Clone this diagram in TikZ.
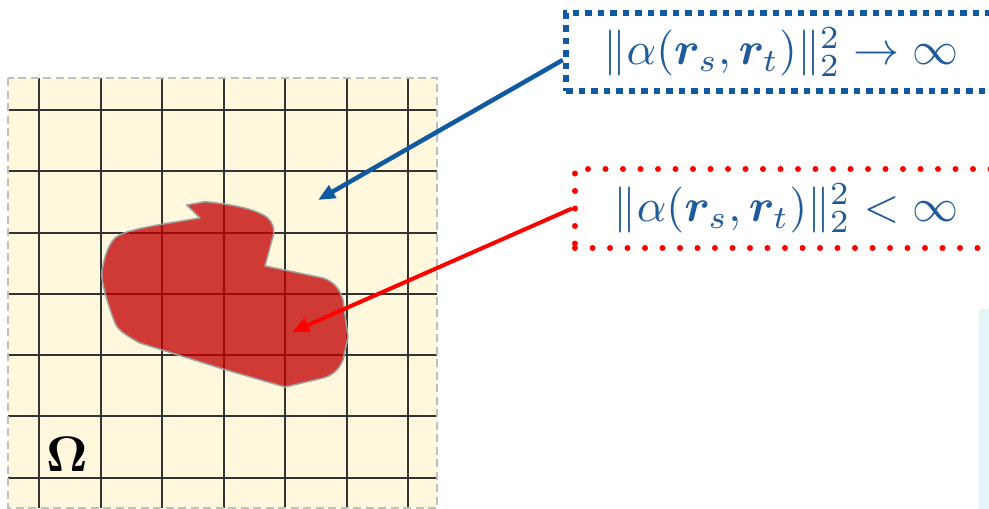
\documentclass[tikz,border=0pt]{standalone}
\usepackage{amsmath,bm}
\usetikzlibrary{arrows.meta,calc}
\definecolor{gridbg}{HTML}{FFF8DC}
\definecolor{gridln}{HTML}{333333}
\definecolor{bordergray}{HTML}{BFBFBF}
\definecolor{blobred}{HTML}{C00000}
\definecolor{blobline}{HTML}{A0A0A0}
\definecolor{boxblue}{HTML}{0F5AA0}
\definecolor{textblue}{HTML}{1F5A9B}
\definecolor{pureRed}{HTML}{FF0000}
\definecolor{stripblue}{HTML}{E4F5FA}
\tikzset{
  gridline/.style={draw=gridln,line width=2pt},
  borderline/.style={draw=bordergray,line width=2pt,dash pattern=on 8pt off 4.5pt},
  blob/.style={fill=blobred,fill opacity=0.76,draw=blobline,line width=1.5pt,line join=round},
  bluebox/.style={draw=boxblue,line width=6.5pt,dash pattern=on 6.5pt off 6pt,inner sep=0pt,minimum width=430pt,minimum height=78pt,text=textblue},
  redbox/.style={draw=pureRed,line width=6pt,line cap=round,dash pattern=on 0pt off 17.5pt,inner sep=0pt,minimum width=422pt,minimum height=79pt,text=textblue},
  bluearrow/.style={draw=boxblue,line width=4.5pt,-{Triangle[length=17pt,width=14pt]}},
  redarrow/.style={draw=pureRed,line width=4pt,-{Triangle[length=17pt,width=14pt]}}
}
\begin{document}
\begin{tikzpicture}[x=1pt,y=-1pt]
\useasboundingbox (0,0) rectangle (989,509);
\clip (0,0) rectangle (989,509);
\fill[stripblue] (979,309) rectangle (989,509);
\fill[gridbg] (8,78) rectangle (437,508);
\foreach \x in {39,100.5,162,223.5,285,346.5,408} \draw[gridline] (\x,78) -- (\x,508);
\foreach \y in {110,171,232.5,294,355,416,478} \draw[gridline] (8,\y) -- (437,\y);
\draw[borderline] (8,78) rectangle (437,508);
\path[blob] (186.7,205) -- (205,201.7) .. controls (240,205) and (266,212) .. (271,222)
  .. controls (275,228) and (274,236) .. (272,240) -- (265,266) -- (323,278)
  .. controls (335,282) and (340,290) .. (343,300) -- (348,337) -- (343,360)
  .. controls (338,372) and (330,376) .. (323,378) -- (285,387) -- (223,369) -- (140,343)
  .. controls (125,335) and (118,330) .. (115,323) .. controls (108,305) and (102,285) .. (101.7,273)
  .. controls (104,258) and (108,245) .. (115,238) .. controls (125,230) and (150,226) .. (200,218) -- cycle;
\node (omega) at (67,454) {\scalebox{5}{$\bm{\Omega}$}};
\node[bluebox] (bbox) at (781,52) {\raisebox{-4pt}{\scalebox{4.6}{$\|\alpha(\bm{r}_s,\bm{r}_t)\|_2^2\to\infty$}}};
\node[redbox] (rbox) at (786,208.5) {\raisebox{-4pt}{\scalebox{4.6}{$\|\alpha(\bm{r}_s,\bm{r}_t)\|_2^2<\infty$}}};
\coordinate (btip) at (318,200);
\coordinate (rtip) at (292,332);
\draw[bluearrow] ($(bbox.west)+(0,8)$) -- (btip);
\draw[redarrow] (rbox.west) -- (rtip);
\end{tikzpicture}
\end{document}
